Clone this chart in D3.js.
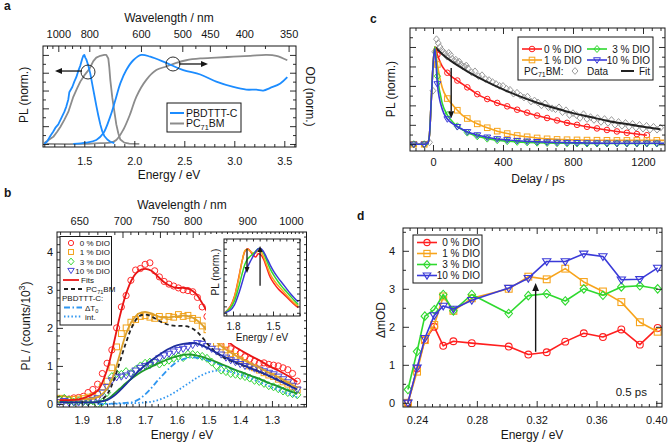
<!DOCTYPE html>
<html><head><meta charset="utf-8">
<script src="https://cdn.jsdelivr.net/npm/d3@7/dist/d3.min.js"></script>
<style>html,body{margin:0;padding:0;background:#fff}svg{display:block}</style>
</head><body>
<svg id="chart" width="671" height="445"></svg>
<script>
// ================= DATA =================
// ---- panel a ----
const aPLE      = [1.10,1.13,1.16,1.19,1.21,1.24,1.27,1.30,1.32,1.34,1.35,1.36,1.38,1.40,1.42,1.44,1.46,1.47,1.48,1.49,1.50,1.51,1.52,1.54,1.56,1.58,1.60,1.62,1.64,1.66,1.68,1.70,1.73,1.76,1.80];
const aPLBlue   = [0.0,0.03,0.09,0.14,0.18,0.22,0.29,0.36,0.42,0.50,0.58,0.60,0.64,0.70,0.75,0.82,0.88,0.92,0.96,0.99,1.0,0.97,0.95,0.88,0.79,0.67,0.55,0.43,0.32,0.22,0.14,0.09,0.05,0.025,0.01];
const aPLGE     = [1.10,1.15,1.19,1.23,1.26,1.30,1.34,1.39,1.43,1.46,1.50,1.55,1.59,1.62,1.66,1.70,1.72,1.74,1.75,1.76,1.78,1.80,1.82,1.84,1.86,1.90,1.95,2.05];
const aPLGrey   = [0.01,0.05,0.08,0.14,0.19,0.27,0.36,0.53,0.63,0.70,0.77,0.84,0.93,0.97,0.99,1.0,1.0,0.96,0.86,0.72,0.52,0.37,0.22,0.12,0.05,0.015,0.005,0.0];
const aAbsE     = [1.39,1.52,1.62,1.69,1.76,1.81,1.86,1.92,1.99,2.07,2.16,2.32,2.49,2.66,2.82,2.99,3.12,3.22,3.29,3.36,3.46,3.53];
const aAbsBlue  = [0.0,0.015,0.045,0.12,0.31,0.49,0.68,0.83,0.94,1.0,0.98,0.91,0.83,0.78,0.70,0.64,0.61,0.61,0.60,0.63,0.68,0.75];
const aAbsGE    = [1.12,1.49,1.66,1.76,1.82,1.89,1.96,2.02,2.12,2.22,2.32,2.42,2.52,2.66,2.82,2.99,3.16,3.32,3.42,3.53];
const aAbsGrey  = [0.0,0.0,0.01,0.015,0.045,0.16,0.34,0.53,0.72,0.83,0.87,0.91,0.94,0.96,0.97,0.98,0.99,1.0,0.99,0.94];
const aEnergyTicks = [1.5,2.0,2.5,3.0,3.5];
const aWlTicks  = [1000,800,600,500,450,400,350];
const aWlMinor  = [1100,1050,950,900,850,750,700,650,550,475,425,375];

// ---- panel b ----
const bE = [1.970,1.955,1.940,1.925,1.910,1.895,1.880,1.865,1.850,1.835,1.820,1.805,1.790,1.775,1.760,1.745,1.730,1.715,1.700,1.685,1.670,1.655,1.640,1.625,1.610,1.595,1.580,1.565,1.550,1.535,1.520,1.505,1.490,1.475,1.460,1.445,1.430,1.415,1.400,1.385,1.370,1.355,1.340,1.325,1.310,1.295,1.280,1.265,1.250,1.235,1.220];
const bRed    = [0.12,0.14,0.13,0.16,0.17,0.20,0.30,0.38,0.52,0.80,1.07,1.42,2.00,2.55,2.85,3.25,3.52,3.56,3.67,3.71,3.50,3.34,3.22,3.15,3.10,3.05,3.00,2.98,2.95,2.80,2.55,2.30,2.05,1.82,1.68,1.55,1.45,1.40,1.33,1.24,1.18,1.12,1.07,1.08,1.04,1.02,1.00,0.95,0.90,0.80,0.60];
const bOrange = [0.15,0.12,0.10,0.12,0.13,0.14,0.18,0.20,0.25,0.45,0.60,0.95,1.50,1.85,2.00,2.15,2.22,2.30,2.32,2.28,2.25,2.30,2.22,2.30,2.28,2.35,2.30,2.33,2.25,2.20,2.05,1.95,1.77,1.60,1.50,1.42,1.32,1.25,1.15,1.07,1.00,0.95,0.89,0.82,0.76,0.72,0.65,0.58,0.52,0.45,0.37];
const bGreen  = [0.12,0.15,0.10,0.05,0.08,0.06,0.05,0.08,0.00,0.05,0.30,0.72,0.80,0.78,0.85,0.80,0.90,1.00,1.07,1.10,1.10,1.05,1.10,1.15,1.20,1.25,1.22,1.31,1.30,1.28,1.25,1.20,1.10,1.00,0.89,0.85,0.80,0.78,0.75,0.72,0.68,0.62,0.59,0.54,0.48,0.45,0.40,0.34,0.30,0.27,0.24];
const bBlue   = [0.05,0.08,0.03,0.05,0.04,0.06,0.05,0.10,0.15,0.30,0.45,0.62,0.70,0.72,0.75,0.80,0.88,0.95,1.00,1.02,1.10,1.20,1.28,1.32,1.38,1.42,1.45,1.50,1.55,1.60,1.58,1.52,1.45,1.38,1.30,1.22,1.15,1.10,1.05,1.00,0.98,0.93,0.90,0.86,0.82,0.78,0.72,0.65,0.57,0.48,0.38];
const bFitE      = [1.97,1.90,1.85,1.82,1.80,1.78,1.76,1.74,1.72,1.70,1.68,1.66,1.64,1.62,1.60,1.58,1.56,1.54,1.52,1.50,1.48,1.46,1.44,1.42,1.40,1.37,1.34,1.31,1.28,1.25,1.22];
const bFitRed    = [0.10,0.14,0.35,0.90,1.55,2.30,2.90,3.30,3.50,3.55,3.50,3.35,3.20,3.10,3.05,3.05,3.02,2.90,2.65,2.35,2.05,1.80,1.65,1.52,1.42,1.28,1.15,1.00,0.88,0.74,0.58];
const bFitOrange = [0.10,0.12,0.18,0.40,0.75,1.30,1.85,2.20,2.38,2.42,2.38,2.30,2.27,2.28,2.30,2.32,2.30,2.22,2.08,1.88,1.68,1.52,1.40,1.30,1.20,1.07,0.95,0.82,0.70,0.56,0.42];
const bFitGreen  = [0.05,0.04,0.05,0.12,0.25,0.40,0.55,0.68,0.80,0.90,0.98,1.06,1.13,1.20,1.25,1.29,1.30,1.28,1.24,1.18,1.12,1.05,0.98,0.91,0.85,0.75,0.66,0.55,0.46,0.36,0.27];
const bFitBlue   = [0.05,0.04,0.05,0.10,0.20,0.35,0.52,0.70,0.87,1.02,1.15,1.27,1.38,1.47,1.54,1.58,1.60,1.59,1.54,1.46,1.37,1.28,1.20,1.12,1.05,0.95,0.85,0.74,0.62,0.50,0.38];
const bFitPC     = [null,null,0.02,0.25,0.60,1.10,1.62,2.05,2.30,2.35,2.30,2.20,2.12,2.07,2.05,2.05,2.02,1.92,1.75,1.55,1.38,1.26,1.17,1.10,1.04,0.95,0.85,0.74,0.63,0.52,0.42];
const bFitDT0    = [null,null,0.0,0.0,0.01,0.02,0.03,0.05,0.12,0.25,0.42,0.62,0.80,0.97,1.10,1.18,1.22,1.22,1.19,1.14,1.08,1.02,0.96,0.90,0.84,0.75,0.65,0.55,0.45,0.35,0.25];
const bFitInt    = [null,null,0.0,0.0,0.0,0.01,0.01,0.02,0.03,0.04,0.06,0.10,0.16,0.24,0.34,0.45,0.56,0.67,0.76,0.83,0.87,0.88,0.86,0.82,0.77,0.68,0.58,0.47,0.37,0.27,0.17];
const bEnergyTicks = [1.9,1.8,1.7,1.6,1.5,1.4,1.3];
const bWlTicks = [650,700,750,800,900,1000];
const bYTicks = [0,1,2,3,4];
// inset
const iE      = [1.86,1.82,1.79,1.76,1.73,1.71,1.69,1.67,1.65,1.63,1.61,1.59,1.57,1.55,1.52,1.49,1.46,1.43,1.40,1.37,1.34,1.31];
const iRed    = [0.0,0.10,0.25,0.52,0.82,0.96,1.0,0.96,0.90,0.87,0.92,0.90,0.83,0.72,0.55,0.45,0.37,0.31,0.25,0.19,0.13,0.08];
const iOrange = [0.0,0.09,0.24,0.50,0.82,0.97,0.99,0.96,0.93,0.93,0.97,0.95,0.87,0.76,0.60,0.50,0.42,0.35,0.28,0.21,0.15,0.10];
const iGreen  = [0.0,0.07,0.18,0.38,0.62,0.76,0.84,0.88,0.92,0.96,1.0,0.99,0.93,0.83,0.68,0.57,0.48,0.40,0.33,0.26,0.19,0.13];
const iBlue   = [0.0,0.04,0.12,0.28,0.48,0.62,0.72,0.80,0.88,0.95,1.0,1.0,0.95,0.87,0.74,0.63,0.54,0.46,0.38,0.30,0.23,0.17];

// ---- panel c ----
const cT      = [-130,-110,-50,-30,-20,-10,0,10,25,53,82,110,139,167,196,225,253,310,367,424,481,538,595,652,709,766,823,880,937,994,1051,1108,1165,1222,1279,1320];
const cMarkT  = [-110,-50,25,82,139,196,253,310,367,424,481,538,595,652,709,766,823,880,937,994,1051,1108,1165,1222,1279];
const cRed    = [0,0,0,0.01,0.10,0.45,0.80,1.00,0.92,0.80,0.735,0.69,0.655,0.62,0.585,0.55,0.515,0.465,0.425,0.39,0.355,0.325,0.295,0.27,0.245,0.22,0.20,0.18,0.163,0.147,0.132,0.118,0.105,0.093,null,null];
const cOrange = [0,0,0,0.01,0.10,0.45,0.80,1.00,0.82,0.58,0.47,0.41,0.35,0.30,0.265,0.235,0.21,0.17,0.135,0.11,0.09,0.077,0.065,0.056,0.05,0.047,0.045,0.043,0.042,0.041,0.04,0.04,0.04,0.04,0.04,0.04];
const cGreen  = [0,0,0,0.01,0.10,0.45,0.80,1.00,0.70,0.42,0.30,0.235,0.185,0.15,0.12,0.10,0.082,0.058,0.042,0.032,0.025,0.02,0.016,0.013,0.011,0.01,0.009,0.008,0.008,0.008,0.008,0.008,0.008,0.008,0.008,0.008];
const cBlue   = [0,0,0,0.01,0.10,0.45,0.80,0.98,0.62,0.36,0.26,0.215,0.18,0.155,0.128,0.11,0.095,0.072,0.055,0.045,0.037,0.031,0.026,0.022,0.019,0.017,0.015,0.013,0.012,0.011,0.01,0.01,0.01,0.01,0.01,0.01];
const cFitT   = [12,50,100,150,200,300,400,500,600,700,800,900,1000,1100,1200,1300];
const cFitV   = [1.0,0.93,0.86,0.80,0.745,0.65,0.565,0.49,0.425,0.37,0.32,0.28,0.24,0.21,0.18,0.155];
const cDataT  = [-20,0,10,20,30,40,50,60,70,80,90,100,110,120,130,140,150,160,170,180,190,200,220,240,260,280,300,320,340,360,380,400,420,440,460,480,500,520,540,560,580,600,620,640,660,680,700,720,740,760,780,800,820,840,860,880,900,920,940,960,980,1000,1020,1040,1060,1080,1100,1120,1140,1160,1180,1200,1220,1240,1260,1280,1300];
const cDataV  = [0.02,0.55,0.95,1.08,1.04,1.0,0.97,0.95,0.93,0.9,0.94,0.92,0.88,0.86,0.87,0.84,0.85,0.82,0.8,0.8,0.81,0.78,0.74,0.75,0.7,0.71,0.67,0.66,0.64,0.62,0.6,0.6,0.57,0.56,0.52,0.53,0.5,0.48,0.49,0.44,0.45,0.43,0.4,0.42,0.38,0.37,0.36,0.38,0.33,0.35,0.3,0.32,0.3,0.27,0.31,0.26,0.28,0.25,0.27,0.23,0.26,0.22,0.25,0.2,0.23,0.19,0.22,0.18,0.21,0.17,0.2,0.16,0.19,0.15,0.18,0.15,0.17];
const cXTicks = [0,400,800,1200];

// ---- panel d ----
const dE      = [0.2339,0.2400,0.2452,0.2515,0.2575,0.2643,0.2766,0.3013,0.3144,0.3267,0.3391,0.3515,0.3643,0.3766,0.3890,0.4009];
const dRed    = [0.0,0.9,1.65,2.0,1.5,1.62,1.57,1.48,1.27,1.33,1.61,1.83,1.73,1.93,1.53,1.97];
const dOrange = [0.0,0.82,1.65,2.05,2.8,2.42,2.75,3.0,3.32,3.25,3.53,3.18,2.93,2.65,2.12,1.87];
const dGreen  = [0.35,1.35,2.28,2.45,2.85,2.42,2.85,2.35,2.82,2.87,2.68,3.0,2.83,3.05,3.08,3.0];
const dBlue   = [0.0,0.92,1.7,2.3,2.55,2.47,2.7,3.02,3.28,3.72,3.72,3.92,3.85,3.24,3.25,3.55];
const dXTicks = [0.24,0.28,0.32,0.36,0.40];
const dYTicks = [0,1,2,3,4];
const dioLabels = ["0 % DIO","1 % DIO","3 % DIO","10 % DIO"];

// ================= DRAWING =================
const FONT = "'Liberation Sans', Arial, Helvetica, sans-serif";
const INK = "#161616";
const RED="#ff1f1f", ORANGE="#f7a41c", GREEN="#2fd92f", BLUE="#3a3ad8";
const ABLUE="#1c8cff", AGREY="#8c8c8c";
const svg = d3.select("#chart");
svg.append("rect").attr("width",671).attr("height",445).attr("fill","#fff");

function steps(a,b,s){const o=[];const n=Math.round((b-a)/s);for(let i=0;i<=n;i++)o.push(+(a+i*s).toFixed(6));return o;}
function without(arr, ex){return arr.filter(v=>!ex.some(e=>Math.abs(e-v)<1e-6));}
function axisAt(g, gen, scale, tr, vals, size, fmt, pad, fs){
  const ax = gen(scale).tickValues(vals).tickSize(size).tickPadding(pad==null?3:pad).tickFormat(fmt||(()=>""));
  const a = g.append("g").attr("transform", tr).call(ax);
  a.select(".domain").remove();
  a.selectAll(".tick line").attr("stroke", INK).attr("stroke-width", 0.9);
  a.selectAll(".tick text").attr("font-size", fs||11).attr("font-family", FONT).attr("fill", INK);
  return a;
}
function text(g, x, y, s, o={}){
  const t = g.append("text").attr("x",x).attr("y",y).attr("font-family",FONT)
    .attr("font-size",o.size||12).attr("fill",o.fill||INK).attr("text-anchor",o.anchor||"start");
  if(o.weight) t.attr("font-weight",o.weight);
  if(o.rot!=null) t.attr("transform",`rotate(${o.rot},${x},${y})`);
  if(Array.isArray(s)){
    let shift=0; const size=o.size||12;
    s.forEach(p=>{
      const part = typeof p==="string"?{t:p}:p;
      const target = part.sub? size*0.28 : part.sup? -size*0.38 : 0;
      const ts = t.append("tspan").attr("dy", target-shift).text(part.t);
      if(part.sub||part.sup) ts.attr("font-size", size*0.7);
      shift = target;
    });
  } else t.text(s);
  return t;
}
function frame(g, P){ g.append("rect").attr("x",P.l).attr("y",P.t).attr("width",P.r-P.l).attr("height",P.b-P.t).attr("fill","none").attr("stroke",INK).attr("stroke-width",1); }
function clip(id, P){ svg.append("clipPath").attr("id",id).append("rect").attr("x",P.l).attr("y",P.t).attr("width",P.r-P.l).attr("height",P.b-P.t); return `url(#${id})`; }
function path(g, xs, ys, sx, sy, o){
  const ln = d3.line().defined((d,i)=>ys[i]!=null).x((d,i)=>sx(xs[i])).y((d,i)=>sy(ys[i])).curve(o.curve||d3.curveLinear);
  const p = g.append("path").attr("d", ln(ys)).attr("fill","none").attr("stroke",o.color).attr("stroke-width",o.w||1.5).attr("stroke-linejoin","round");
  if(o.dash) p.attr("stroke-dasharray",o.dash);
  return p;
}
function marker(g, type, x, y, color, r, sw){
  let el;
  if(type==="circle") el = g.append("circle").attr("cx",x).attr("cy",y).attr("r",r);
  else if(type==="square") el = g.append("rect").attr("x",x-r).attr("y",y-r).attr("width",2*r).attr("height",2*r);
  else if(type==="diamond") el = g.append("path").attr("d",`M${x},${y-r*1.25}L${x+r*1.1},${y}L${x},${y+r*1.25}L${x-r*1.1},${y}Z`);
  else el = g.append("path").attr("d",`M${x-r*1.15},${y-r*0.75}L${x+r*1.15},${y-r*0.75}L${x},${y+r*1.1}Z`);
  el.attr("fill","none").attr("stroke",color).attr("stroke-width",sw||1);
  return el;
}
function arrow(g, x1,y1,x2,y2, head, w){
  const dx=x2-x1, dy=y2-y1, L=Math.hypot(dx,dy), ux=dx/L, uy=dy/L;
  const bx=x2-ux*head, by=y2-uy*head;
  g.append("line").attr("x1",x1).attr("y1",y1).attr("x2",bx).attr("y2",by).attr("stroke",INK).attr("stroke-width",w||1.3);
  const px=-uy*head*0.42, py=ux*head*0.42;
  g.append("path").attr("d",`M${x2},${y2}L${bx+px},${by+py}L${bx-px},${by-py}Z`).attr("fill",INK);
}

// ---------------- Panel a ----------------
{
  const P = {l:43, r:296, t:46, b:147};
  const g = svg.append("g");
  const x = d3.scaleLinear().domain([1.087,3.617]).range([P.l,P.r]);
  const y = d3.scaleLinear().domain([-0.034,1.1]).range([P.b,P.t]);
  const gc = g.append("g").attr("clip-path", clip("clipA",P));
  path(gc, aAbsGE, aAbsGrey, x, y, {color:AGREY, w:1.8, curve:d3.curveCatmullRom});
  path(gc, aPLGE, aPLGrey, x, y, {color:AGREY, w:1.8});
  path(gc, aAbsE, aAbsBlue, x, y, {color:ABLUE, w:1.8, curve:d3.curveCatmullRom});
  path(gc, aPLE, aPLBlue, x, y, {color:ABLUE, w:1.8});
  axisAt(g, d3.axisBottom, x, `translate(0,${P.b})`, aEnergyTicks, -6, d3.format(".1f"), 10, 11);
  axisAt(g, d3.axisBottom, x, `translate(0,${P.b})`, without(steps(1.1,3.6,0.1),aEnergyTicks), -3);
  axisAt(g, d3.axisTop, x, `translate(0,${P.t})`, aWlTicks.map(w=>1240/w), -6, (d,i)=>aWlTicks[i], 8.5, 11);
  axisAt(g, d3.axisTop, x, `translate(0,${P.t})`, aWlMinor.map(w=>1240/w), -3);
  [[d3.axisLeft,P.l],[d3.axisRight,P.r]].forEach(([gen,px])=>{
    axisAt(g, gen, y, `translate(${px},0)`, steps(0,1,0.2), -6);
    axisAt(g, gen, y, `translate(${px},0)`, steps(0.1,0.9,0.2), -3);
  });
  frame(g,P);
  [[1.537,0.808],[2.387,0.898]].forEach(([e,v])=>g.append("circle").attr("cx",x(e)).attr("cy",y(v)).attr("r",7).attr("fill","none").attr("stroke",INK).attr("stroke-width",0.9));
  arrow(g, x(1.477), y(0.819), x(1.207), y(0.819), 7, 1.3);
  arrow(g, x(2.447), y(0.898), x(2.737), y(0.898), 7, 1.3);
  g.append("rect").attr("x",167).attr("y",103).attr("width",74).attr("height",29).attr("fill","#fff").attr("stroke",INK).attr("stroke-width",1);
  g.append("line").attr("x1",170).attr("x2",184).attr("y1",113).attr("y2",113).attr("stroke",ABLUE).attr("stroke-width",2);
  g.append("line").attr("x1",170).attr("x2",184).attr("y1",123.5).attr("y2",123.5).attr("stroke",AGREY).attr("stroke-width",2);
  text(g, 186, 116.8, "PBDTTT-C", {size:10.5});
  text(g, 186, 127.3, ["PC",{t:"71",sub:true},"BM"], {size:10.5});
  text(g, 169, 22, "Wavelength / nm", {size:12, anchor:"middle"});
  text(g, 169, 179, "Energy / eV", {size:12, anchor:"middle"});
  text(g, 28, 95, "PL (norm.)", {size:12, anchor:"middle", rot:-90});
  text(g, 305.5, 96.5, "OD (norm.)", {size:12, anchor:"middle", rot:90});
  text(g, 4, 10, "a", {size:12, weight:"bold"});
}

// ---------------- Panel b ----------------
{
  const P = {l:57, r:306.5, t:232, b:407};
  const g = svg.append("g");
  const x = d3.scaleLinear().domain([1.978,1.191]).range([P.l,P.r]);
  const y = d3.scaleLinear().domain([-0.08,4.52]).range([P.b,P.t]);
  const gc = g.append("g").attr("clip-path", clip("clipB",P));
  const mk = [["circle",bRed,"#ff2a2a",3.1],["square",bOrange,"#f2a21a",2.9],["diamond",bGreen,"#33d633",3.2],["tri",bBlue,"#4848d8",3.3]];
  mk.forEach(([t,vals,col,r])=>vals.forEach((v,i)=>marker(gc,t,x(bE[i]),y(v),col,r,1)));
  const cr = d3.curveCatmullRom.alpha(0.5);
  path(gc, bFitE, bFitInt, x, y, {color:"#2f96f0", w:1.8, dash:"1.5,2.2", curve:cr});
  path(gc, bFitE, bFitDT0, x, y, {color:"#2f96f0", w:1.8, dash:"6,2.5,1.5,2.5", curve:cr});
  path(gc, bFitE, bFitPC, x, y, {color:"#222", w:1.8, dash:"4,3", curve:cr});
  path(gc, bFitE, bFitGreen, x, y, {color:"#1f9a2a", w:1.8, curve:cr});
  path(gc, bFitE, bFitOrange, x, y, {color:"#dca02c", w:1.8, curve:cr});
  path(gc, bFitE, bFitBlue, x, y, {color:"#1f2f9e", w:1.8, curve:cr});
  path(gc, bFitE, bFitRed, x, y, {color:"#e81414", w:1.8, curve:cr});
  axisAt(g, d3.axisBottom, x, `translate(0,${P.b})`, bEnergyTicks, -6, d3.format(".1f"), 9, 11);
  axisAt(g, d3.axisBottom, x, `translate(0,${P.b})`, without(steps(1.2,1.96,0.02),bEnergyTicks), -3);
  axisAt(g, d3.axisTop, x, `translate(0,${P.t})`, bWlTicks.map(w=>1240/w), -6, (d,i)=>bWlTicks[i], 7, 11);
  axisAt(g, d3.axisTop, x, `translate(0,${P.t})`, without(steps(630,1030,10),bWlTicks).map(w=>1240/w), -3);
  axisAt(g, d3.axisLeft, y, `translate(${P.l},0)`, bYTicks, -6, d3.format("d"), 4, 11);
  axisAt(g, d3.axisLeft, y, `translate(${P.l},0)`, without(steps(0,4.4,0.2),bYTicks), -3);
  axisAt(g, d3.axisRight, y, `translate(${P.r},0)`, bYTicks, -6);
  axisAt(g, d3.axisRight, y, `translate(${P.r},0)`, without(steps(0,4.4,0.2),bYTicks), -3);
  frame(g,P);
  const L = g.append("g");
  L.append("rect").attr("x",60).attr("y",236.5).attr("width",51.5).attr("height",88.5).attr("fill","#fff").attr("stroke",INK).attr("stroke-width",1);
  const rows=[243,252,261.5,270.5,280,289,298,307.5,316.5];
  mk.forEach(([t,vals,col,r],i)=>{ marker(L,t,71,rows[i],col,r*0.85,1); text(L,110,rows[i]+3,dioLabels[i],{size:8,anchor:"end"}); });
  L.append("line").attr("x1",63).attr("x2",79).attr("y1",rows[4]).attr("y2",rows[4]).attr("stroke","#e81414").attr("stroke-width",1.8);
  text(L,81,rows[4]+3,"Fits",{size:8});
  L.append("line").attr("x1",64).attr("x2",84).attr("y1",rows[5]).attr("y2",rows[5]).attr("stroke","#222").attr("stroke-width",1.8).attr("stroke-dasharray","4,3");
  text(L,86,rows[5]+3,["PC",{t:"71",sub:true},"BM"],{size:8});
  text(L,62,rows[6]+3,"PBDTTT-C:",{size:8});
  L.append("line").attr("x1",64).attr("x2",82).attr("y1",rows[7]).attr("y2",rows[7]).attr("stroke","#2f96f0").attr("stroke-width",1.8).attr("stroke-dasharray","6,2.5,1.5,2.5");
  text(L,85,rows[7]+3,["ΔT",{t:"0",sub:true}],{size:8});
  L.append("line").attr("x1",64).attr("x2",82).attr("y1",rows[8]).attr("y2",rows[8]).attr("stroke","#2f96f0").attr("stroke-width",1.8).attr("stroke-dasharray","1.5,2.2");
  text(L,85,rows[8]+3,"int.",{size:8});
  const I = {l:224, r:300, t:239, b:316};
  const gi = g.append("g");
  gi.append("rect").attr("x",206).attr("y",234).attr("width",98).attr("height",109).attr("fill","#fff");
  const xi = d3.scaleLinear().domain([1.8675,1.2975]).range([I.l,I.r]);
  const yi = d3.scaleLinear().domain([-0.05,1.15]).range([I.b,I.t]);
  const gic = gi.append("g").attr("clip-path", clip("clipI",I));
  [[iRed,RED],[iOrange,ORANGE],[iGreen,GREEN],[iBlue,BLUE]].forEach(([v,c])=>path(gic, iE, v, xi, yi, {color:c, w:1.5, curve:cr}));
  axisAt(gi, d3.axisBottom, xi, `translate(0,${I.b})`, [1.8,1.5], -4.5, d3.format(".1f"), 7, 10);
  axisAt(gi, d3.axisBottom, xi, `translate(0,${I.b})`, [1.85,1.75,1.7,1.65,1.6,1.55,1.45,1.4,1.35,1.3], -2.5);
  axisAt(gi, d3.axisTop, xi, `translate(0,${I.t})`, [1.85,1.8,1.75,1.7,1.65,1.6,1.55,1.5,1.45,1.4,1.35,1.3], -2.5);
  axisAt(gi, d3.axisLeft, yi, `translate(${I.l},0)`, steps(0,1.1,0.1), -3);
  axisAt(gi, d3.axisRight, yi, `translate(${I.r},0)`, steps(0,1.1,0.1), -3);
  frame(gi, I);
  arrow(gi, xi(1.695), yi(1.0), xi(1.695), yi(0.62), 6, 1.3);
  arrow(gi, xi(1.597), yi(0.42), xi(1.597), yi(1.04), 6, 1.3);
  text(gi, 219, 272, "PL (norm.)", {size:10, anchor:"middle", rot:-90});
  text(gi, 262, 340.5, "Energy / eV", {size:10, anchor:"middle"});
  text(g, 182, 209, "Wavelength / nm", {size:12, anchor:"middle"});
  text(g, 182, 439, "Energy / eV", {size:12, anchor:"middle"});
  text(g, 30, 326, ["PL / (counts/10",{t:"3",sup:true},")"], {size:12, anchor:"middle", rot:-90});
  text(g, 4, 197, "b", {size:12, weight:"bold"});
}

// ---------------- Panel c ----------------
{
  const P = {l:410, r:665, t:28, b:151};
  const g = svg.append("g");
  const x = d3.scaleLinear().domain([-131.4,1325.7]).range([P.l,P.r]);
  const y = d3.scaleLinear().domain([-0.069,1.195]).range([P.b,P.t]);
  const gc = g.append("g").attr("clip-path", clip("clipC",P));
  cDataV.forEach((v,i)=>marker(gc,"diamond",x(cDataT[i]),y(v),"#9c9c9c",2.7,1));
  path(gc, cFitT, cFitV, x, y, {color:"#222", w:2, curve:d3.curveMonotoneX});
  const series = [[cRed,RED,"circle"],[cOrange,ORANGE,"square"],[cGreen,GREEN,"diamond"],[cBlue,BLUE,"tri"]];
  series.forEach(([v,c,t])=>{
    path(gc, cT, v, x, y, {color:c, w:1.6, curve:d3.curveMonotoneX});
    cT.forEach((tt,i)=>{ if(v[i]!=null && cMarkT.includes(tt)) marker(gc,t,x(tt),y(v[i]),c,t==="tri"?3:2.8,1); });
  });
  axisAt(g, d3.axisBottom, x, `translate(0,${P.b})`, cXTicks, -6, d3.format("d"), 7.5, 11);
  axisAt(g, d3.axisBottom, x, `translate(0,${P.b})`, without(steps(-100,1300,50),cXTicks), -3);
  axisAt(g, d3.axisTop, x, `translate(0,${P.t})`, cXTicks, -6);
  axisAt(g, d3.axisTop, x, `translate(0,${P.t})`, without(steps(-100,1300,50),cXTicks), -3);
  [[d3.axisLeft,P.l],[d3.axisRight,P.r]].forEach(([gen,px])=>{
    axisAt(g, gen, y, `translate(${px},0)`, steps(0,1,0.2), -6);
    axisAt(g, gen, y, `translate(${px},0)`, steps(0.1,1.1,0.2), -3);
  });
  frame(g,P);
  arrow(g, x(104), y(0.783), x(104), y(0.268), 7, 1.4);
  const L = g.append("g");
  L.append("rect").attr("x",518).attr("y",37).attr("width",135).attr("height",43).attr("fill","#fff").attr("stroke",INK).attr("stroke-width",1);
  const ent = [[RED,"circle",522,49,dioLabels[0],544,"start"],[ORANGE,"square",522,60,dioLabels[1],544,"start"],
               [GREEN,"diamond",587,49,dioLabels[2],650,"end"],[BLUE,"tri",587,60,dioLabels[3],650,"end"]];
  ent.forEach(([c,t,lx,ly,lab,tx,an])=>{
    L.append("line").attr("x1",lx).attr("x2",lx+20).attr("y1",ly).attr("y2",ly).attr("stroke",c).attr("stroke-width",1.6);
    marker(L,t,lx+10,ly,c,t==="tri"?3:2.8,1);
    text(L,tx,ly+3.6,lab,{size:10,anchor:an});
  });
  text(L,524,74.6,["PC",{t:"71",sub:true},"BM:"],{size:10});
  marker(L,"diamond",575,71,"#9c9c9c",2.7,1);
  text(L,587,74.6,"Data",{size:10});
  L.append("line").attr("x1",621).attr("x2",634).attr("y1",71).attr("y2",71).attr("stroke","#222").attr("stroke-width",2);
  text(L,650,74.6,"Fit",{size:10,anchor:"end"});
  text(g, 538, 183, "Delay / ps", {size:12, anchor:"middle"});
  text(g, 395, 89, "PL (norm.)", {size:12, anchor:"middle", rot:-90});
  text(g, 370, 23, "c", {size:12, weight:"bold"});
}

// ---------------- Panel d ----------------
{
  const P = {l:403, r:662, t:228, b:407};
  const g = svg.append("g");
  const x = d3.scaleLinear().domain([0.2306,0.4038]).range([P.l,P.r]);
  const y = d3.scaleLinear().domain([-0.11,4.6]).range([P.b,P.t]);
  const gc = g.append("g").attr("clip-path", clip("clipD",P));
  const series = [[dRed,RED,"circle"],[dOrange,ORANGE,"square"],[dGreen,GREEN,"diamond"],[dBlue,BLUE,"tri"]];
  series.forEach(([v,c,t])=>{
    path(gc, dE, v, x, y, {color:c, w:1.6});
    v.forEach((vv,i)=>marker(gc,t,x(dE[i]),y(vv),c,t==="tri"?3.6:3.4,1.1));
  });
  axisAt(g, d3.axisBottom, x, `translate(0,${P.b})`, dXTicks, -6, d3.format(".2f"), 9, 11);
  axisAt(g, d3.axisBottom, x, `translate(0,${P.b})`, without(steps(0.235,0.400,0.005),dXTicks), -3);
  axisAt(g, d3.axisTop, x, `translate(0,${P.t})`, dXTicks, -6);
  axisAt(g, d3.axisTop, x, `translate(0,${P.t})`, without(steps(0.235,0.400,0.005),dXTicks), -3);
  axisAt(g, d3.axisLeft, y, `translate(${P.l},0)`, dYTicks, -6, d3.format("d"), 8, 11);
  axisAt(g, d3.axisLeft, y, `translate(${P.l},0)`, [0.5,1.5,2.5,3.5,4.5], -3);
  axisAt(g, d3.axisRight, y, `translate(${P.r},0)`, dYTicks, -6);
  axisAt(g, d3.axisRight, y, `translate(${P.r},0)`, [0.5,1.5,2.5,3.5,4.5], -3);
  frame(g,P);
  arrow(g, x(0.3193), y(1.343), x(0.3193), y(3.155), 8, 1.4);
  const L = g.append("g");
  L.append("rect").attr("x",413).attr("y",235).attr("width",69).attr("height",48).attr("fill","#fff").attr("stroke",INK).attr("stroke-width",1);
  const rows=[242.5,253.5,264.5,275.5];
  series.forEach(([v,c,t],i)=>{
    L.append("line").attr("x1",417).attr("x2",437).attr("y1",rows[i]).attr("y2",rows[i]).attr("stroke",c).attr("stroke-width",1.6);
    marker(L,t,427,rows[i],c,t==="tri"?3.3:3.1,1.1);
    text(L,480,rows[i]+3.6,dioLabels[i],{size:10,anchor:"end"});
  });
  text(g, 647, 396, "0.5 ps", {size:11.5, anchor:"end"});
  text(g, 532, 439, "Energy / eV", {size:12, anchor:"middle"});
  text(g, 385, 320, "ΔmOD", {size:12, anchor:"middle", rot:-90});
  text(g, 357, 220, "d", {size:12, weight:"bold"});
}
</script>
</body></html>
